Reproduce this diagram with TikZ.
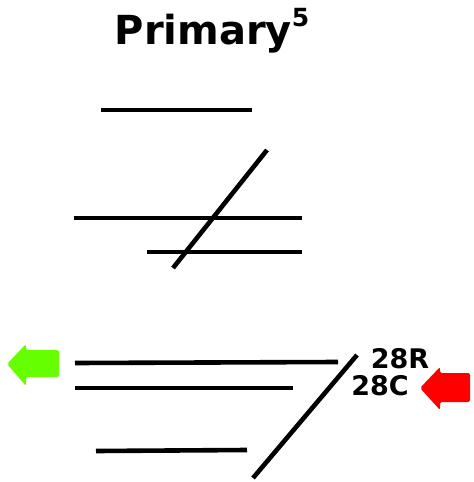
\documentclass[tikz,border=0pt]{standalone}
\usepackage{fontspec}
\setmainfont{DejaVu Sans}

\tikzstyle{rwy}=[line width=2.3pt]
\tikzstyle{label}=[font=\fontsize{13.5}{15}\selectfont\bfseries, inner sep=0pt]
\tikzstyle{flow}=[rounded corners=1pt]
\definecolor{outgreen}{RGB}{102,255,0}

\begin{document}
\begin{tikzpicture}[x=0.5pt, y=-0.5pt]
      \useasboundingbox (0, 0) rectangle (474, 482);

      \node[inner sep=0pt, font=\fontsize{20}{24}\selectfont\bfseries] (title) at (212, 31)
        {Primary\raisebox{0.45em}{\fontsize{12.5}{14}\selectfont 5}};

      % upper group
      \draw[rwy] (101, 110) -- (252, 110);
      \draw[rwy] (74, 218) -- (302, 218);
      \draw[rwy] (147, 252) -- (302, 252);
      \draw[rwy] (267, 150) -- (173, 268);

      % lower group
      \draw[rwy] (75, 363) -- (338, 362);
      \draw[rwy] (75, 388) -- (293, 388);
      \draw[rwy] (96, 451) -- (247, 450);
      \draw[rwy] (357, 355) -- (253, 478);

      \node[label] (r) at (400, 359) {28R};
      \node[label] (c) at (380, 386) {28C};

      % arrows
      \fill[flow, outgreen] (7, 364) -- (26, 344) -- (26, 350) -- (59, 350)
        -- (59, 377) -- (26, 377) -- (26, 386) -- cycle;
      \fill[flow, red] (420, 388) -- (440, 367) -- (440, 373) -- (470, 373)
        -- (470, 402) -- (440, 402) -- (440, 410) -- cycle;
    \end{tikzpicture}
\end{document}
